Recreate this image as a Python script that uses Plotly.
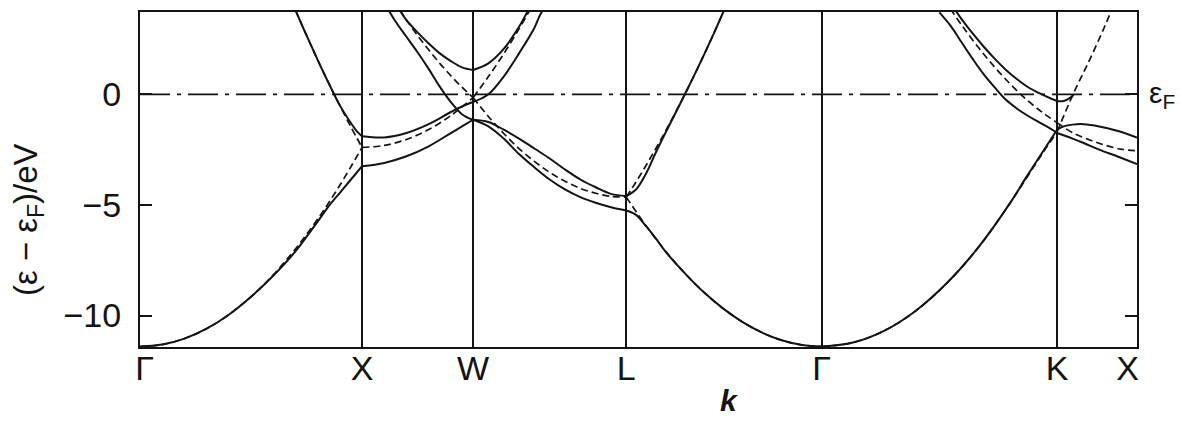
import plotly.graph_objects as go

# High-symmetry points along the fcc path (k in units of 2*pi/a)
sym_labels = ["\u00a0Γ", "X", "W", "L", "Γ", "K", "X\u00a0\u00a0"]
sym_k = [0.0, 1.0, 1.5, 2.19, 3.07, 4.13, 4.49]

# ---- free-electron bands (dashed) ----
fe_gx_k = [0, 0.1, 0.2, 0.3, 0.4, 0.5, 0.6, 0.7, 0.8, 0.9, 1.0]
fe_gx_e = [-11.4, -11.31, -11.04, -10.59, -9.96, -9.15, -8.16, -6.99, -5.64, -4.11, -2.4]
fe_gx2_k = [0.70, 0.75, 0.8, 0.85, 0.9, 0.95, 1.0]
fe_gx2_e = [3.81, 2.66, 1.56, 0.50, -0.51, -1.48, -2.4]
fe_xw_lo_k = [1.0, 1.1, 1.2, 1.3, 1.4, 1.5]
fe_xw_lo_e = [-2.4, -2.31, -2.04, -1.59, -0.96, -0.15]
fe_xw_hi_k = [1.17, 1.2, 1.25, 1.3, 1.35, 1.4, 1.45, 1.5]
fe_xw_hi_e = [3.80, 3.36, 2.66, 2.01, 1.40, 0.84, 0.32, -0.15]
fe_wl_dn_k = [1.5, 1.569, 1.638, 1.707, 1.776, 1.845, 1.914, 1.983, 2.052, 2.121, 2.19]
fe_wl_dn_e = [-0.15, -1.0, -1.77, -2.45, -3.03, -3.53, -3.93, -4.25, -4.47, -4.61, -4.65]
fe_wl_up_k = [1.5, 1.569, 1.638, 1.707, 1.748, 1.762]
fe_wl_up_e = [-0.15, 0.80, 1.83, 2.96, 3.67, 3.92]
fe_lg_dn_k = [2.19, 2.278, 2.366, 2.454, 2.542, 2.63, 2.718, 2.806, 2.894, 2.982, 3.07]
fe_lg_dn_e = [-4.65, -5.93, -7.08, -8.09, -8.97, -9.71, -10.32, -10.79, -11.13, -11.33, -11.4]
fe_lg_up_k = [2.19, 2.234, 2.278, 2.322, 2.366, 2.41, 2.454, 2.498, 2.542, 2.586, 2.63]
fe_lg_up_e = [-4.65, -3.96, -3.23, -2.47, -1.68, -0.85, 0.01, 0.90, 1.83, 2.79, 3.79]
fe_gk_up_k = [3.07, 3.211, 3.353, 3.494, 3.635, 3.777, 3.918, 4.059, 4.13]
fe_gk_up_e = [-11.4, -11.22, -10.68, -9.78, -8.52, -6.9, -4.92, -2.75, -1.7]
fe_kx_up_k = [4.13, 4.202, 4.274, 4.346, 4.375]
fe_kx_up_e = [-1.7, 0.0, 1.5, 3.1, 3.8]
fe_gk_dn_k = [3.649, 3.706, 3.777, 3.847, 3.918, 3.988, 4.059, 4.13]
fe_gk_dn_e = [3.87, 3.05, 2.10, 1.25, 0.48, -0.20, -0.78, -1.28]
fe_kx_dn_k = [4.13, 4.202, 4.274, 4.346, 4.418, 4.49]
fe_kx_dn_e = [-1.28, -1.75, -2.05, -2.3, -2.48, -2.55]

# ---- calculated bands (solid) ----
gx_lo_k = [0, 0.1, 0.2, 0.3, 0.4, 0.5, 0.6, 0.7, 0.8, 0.85, 0.9, 0.95, 1.0]
gx_lo_e = [-11.4, -11.31, -11.04, -10.59, -9.96, -9.15, -8.2, -7.1, -5.75, -5.05, -4.45, -3.85, -3.25]
gx_hi_k = [0.70, 0.75, 0.8, 0.85, 0.9, 0.95, 0.975, 1.0]
gx_hi_e = [3.81, 2.66, 1.56, 0.5, -0.5, -1.3, -1.65, -1.9]
xw_lo_k = [1.0, 1.1, 1.2, 1.3, 1.4, 1.45, 1.5]
xw_lo_e = [-3.25, -3.1, -2.8, -2.35, -1.75, -1.45, -1.15]
xw_mid_k = [1.0, 1.1, 1.2, 1.3, 1.4, 1.45, 1.5]
xw_mid_e = [-1.9, -1.95, -1.75, -1.35, -0.8, -0.55, -0.35]
xw_a_k = [1.12, 1.15, 1.2, 1.25, 1.3, 1.35, 1.4, 1.45, 1.475, 1.5]
xw_a_e = [3.8, 3.3, 2.6, 1.9, 1.15, 0.35, -0.35, -0.9, -1.05, -1.15]
xw_u_k = [1.17, 1.2, 1.25, 1.3, 1.35, 1.4, 1.45, 1.5]
xw_u_e = [3.8, 3.35, 2.8, 2.3, 1.85, 1.5, 1.22, 1.1]
wl_u_k = [1.5, 1.569, 1.638, 1.707, 1.735, 1.748]
wl_u_e = [1.1, 1.4, 2.05, 3.05, 3.55, 3.8]
wl_out_k = [1.5, 1.569, 1.638, 1.707, 1.776, 1.80, 1.814]
wl_out_e = [-0.35, 0.0, 0.8, 1.85, 3.0, 3.55, 3.8]
wl_hi_k = [1.5, 1.569, 1.638, 1.707, 1.776, 1.845, 1.914, 1.983, 2.052, 2.121, 2.19]
wl_hi_e = [-1.15, -1.25, -1.6, -2.0, -2.45, -2.9, -3.4, -3.85, -4.2, -4.5, -4.6]
wl_lo_k = [1.5, 1.569, 1.638, 1.707, 1.776, 1.845, 1.914, 1.983, 2.052, 2.121, 2.19]
wl_lo_e = [-1.15, -1.45, -2.0, -2.7, -3.3, -3.85, -4.3, -4.65, -4.9, -5.1, -5.25]
lg_up_k = [2.19, 2.234, 2.278, 2.322, 2.366, 2.41, 2.454, 2.498, 2.542, 2.586, 2.63]
lg_up_e = [-4.6, -4.3, -3.6, -2.65, -1.75, -0.88, 0.0, 0.9, 1.83, 2.79, 3.79]
lg_dn_k = [2.19, 2.234, 2.278, 2.322, 2.366, 2.454, 2.542, 2.63, 2.718, 2.806, 2.894, 2.982, 3.07]
lg_dn_e = [-5.25, -5.45, -5.95, -6.5, -7.1, -8.09, -8.97, -9.71, -10.32, -10.79, -11.13, -11.33, -11.4]
gk_up_k = [3.07, 3.211, 3.353, 3.494, 3.635, 3.777, 3.918, 3.988, 4.059, 4.13]
gk_up_e = [-11.4, -11.22, -10.68, -9.78, -8.52, -6.9, -4.92, -3.8, -2.7, -1.6]
gk_out_k = [3.60, 3.65, 3.70, 3.75, 3.80, 3.85, 3.90, 3.95, 4.00, 4.05, 4.10, 4.13]
gk_out_e = [3.7, 3.1, 2.35, 1.6, 0.9, 0.3, -0.25, -0.65, -0.98, -1.27, -1.55, -1.75]
gk_in_k = [3.665, 3.70, 3.75, 3.80, 3.85, 3.90, 3.95, 4.00, 4.05, 4.10, 4.13, 4.16, 4.19, 4.205]
gk_in_e = [3.9, 3.4, 2.75, 2.15, 1.6, 1.1, 0.68, 0.32, 0.05, -0.18, -0.3, -0.3, -0.15, -0.02]
kx_hi_k = [4.13, 4.16, 4.20, 4.25, 4.32, 4.40, 4.49]
kx_hi_e = [-1.6, -1.45, -1.37, -1.35, -1.45, -1.65, -1.95]
kx_lo_k = [4.13, 4.20, 4.25, 4.32, 4.40, 4.49]
kx_lo_e = [-1.75, -2.0, -2.2, -2.5, -2.8, -3.15]

INK = "#141414"
FONT = "Liberation Sans, Arial, sans-serif"

fig = go.Figure()

# Fermi level, dash-dot
fig.add_trace(go.Scatter(x=[sym_k[0], sym_k[-1]], y=[0, 0], mode="lines",
                         line=dict(color=INK, width=1.8, dash="30px,7px,4px,7px"),
                         hoverinfo="skip", showlegend=False))

free_bands = [
    (fe_gx_k, fe_gx_e), (fe_gx2_k, fe_gx2_e), (fe_xw_lo_k, fe_xw_lo_e),
    (fe_xw_hi_k, fe_xw_hi_e), (fe_wl_dn_k, fe_wl_dn_e), (fe_wl_up_k, fe_wl_up_e),
    (fe_lg_dn_k, fe_lg_dn_e), (fe_lg_up_k, fe_lg_up_e), (fe_gk_up_k, fe_gk_up_e),
    (fe_kx_up_k, fe_kx_up_e), (fe_gk_dn_k, fe_gk_dn_e), (fe_kx_dn_k, fe_kx_dn_e),
]
for kk, ee in free_bands:
    fig.add_trace(go.Scatter(x=kk, y=ee, mode="lines",
                             line=dict(color=INK, width=1.7, dash="7px,4px",
                                       shape="spline", smoothing=1.0),
                             hoverinfo="skip", showlegend=False))

real_bands = [
    (gx_lo_k, gx_lo_e), (gx_hi_k, gx_hi_e), (xw_lo_k, xw_lo_e), (xw_mid_k, xw_mid_e),
    (xw_a_k, xw_a_e), (xw_u_k, xw_u_e), (wl_u_k, wl_u_e), (wl_out_k, wl_out_e),
    (wl_hi_k, wl_hi_e), (wl_lo_k, wl_lo_e), (lg_up_k, lg_up_e), (lg_dn_k, lg_dn_e),
    (gk_up_k, gk_up_e), (gk_out_k, gk_out_e), (gk_in_k, gk_in_e),
    (kx_hi_k, kx_hi_e), (kx_lo_k, kx_lo_e),
]
for kk, ee in real_bands:
    fig.add_trace(go.Scatter(x=kk, y=ee, mode="lines",
                             line=dict(color=INK, width=2.0, shape="spline", smoothing=1.0),
                             hoverinfo="skip", showlegend=False))

fig.update_layout(
    width=1183, height=423,
    margin=dict(l=140, r=46, t=10, b=76),
    paper_bgcolor="white", plot_bgcolor="white",
    font=dict(family=FONT, color=INK, size=34),
    xaxis=dict(range=[sym_k[0], sym_k[-1]], tickmode="array", tickvals=sym_k,
               ticktext=sym_labels, ticks="", showgrid=True, gridcolor=INK,
               gridwidth=1.6, zeroline=False, showline=True, linecolor=INK,
               linewidth=2.0, mirror=True, tickfont=dict(size=34),
               ticklabelstandoff=-10),
    yaxis=dict(range=[-11.42, 3.72], tickmode="array", tickvals=[0, -5, -10],
               ticks="inside", ticklen=12, tickwidth=1.8, tickcolor=INK,
               showgrid=False, zeroline=False, showline=True, linecolor=INK,
               linewidth=2.0, mirror="ticks", tickfont=dict(size=34),
               ticklabelstandoff=10),
)

# axis captions
fig.add_annotation(xref="paper", yref="paper", x=-0.113, y=0.38,
                   xanchor="center", yanchor="middle",
                   text="(ε − ε<sub>F</sub>)/eV", textangle=-90, showarrow=False,
                   font=dict(size=33, family=FONT, color=INK))
fig.add_annotation(xref="x", yref="paper", x=2.653, y=-0.16,
                   xanchor="center", yanchor="middle",
                   text="<b><i>k</i></b>", showarrow=False,
                   font=dict(size=30, family=FONT, color=INK))
fig.add_annotation(xref="x", yref="y", x=sym_k[-1], y=0, xanchor="left", xshift=10,
                   text="ε<sub>F</sub>", showarrow=False,
                   font=dict(size=30, family=FONT, color=INK))

fig.write_html("out.html")
